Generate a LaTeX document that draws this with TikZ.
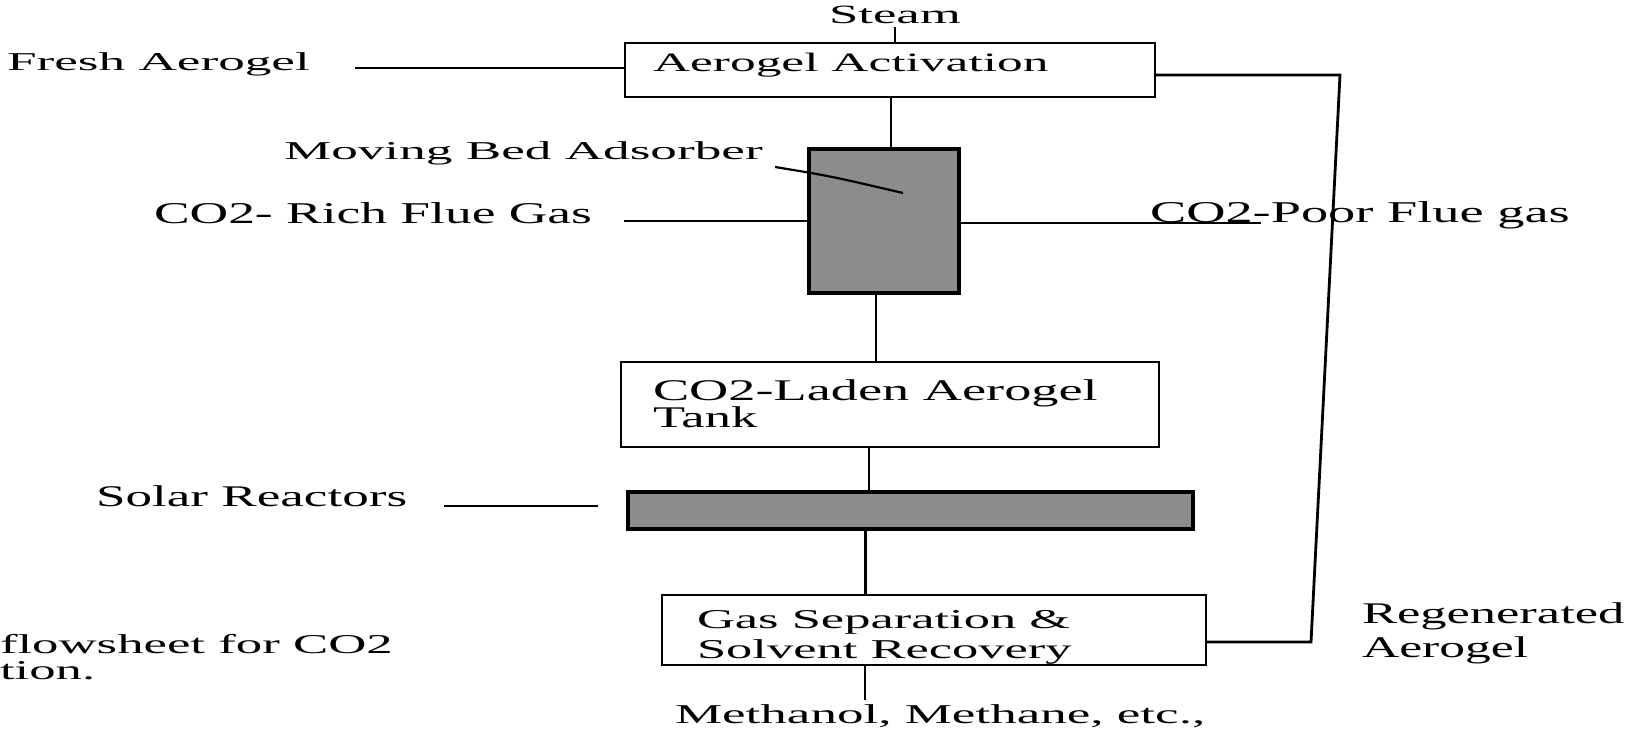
\documentclass[tikz,border=0pt]{standalone}
\usepackage{fontspec}
\setmainfont{Liberation Serif}
\usepackage{graphicx}
\newcommand{\wtxt}[3]{\fontsize{#2pt}{#2pt}\selectfont\scalebox{#1}[1]{#3}}
\begin{document}
\begin{tikzpicture}[x=1pt,y=-1pt,
  txt/.style={inner sep=0pt, outer sep=0pt, anchor=base west},
  box/.style={draw, line width=2.8pt, inner sep=0pt, outer sep=0pt},
  shaded/.style={draw, line width=3.2pt, fill=black!45, inner sep=0pt, outer sep=0pt},
  ln/.style={line width=2.8pt}]
\useasboundingbox (0,0) rectangle (1630,729);

% boxes
\node[box, minimum width=530pt, minimum height=54pt] (act) at (890,70) {};
\node[shaded, minimum width=150pt, minimum height=144pt] (ads) at (884,221) {};
\node[box, minimum width=538pt, minimum height=85pt] (tank) at (890,404.5) {};
\node[shaded, minimum width=565pt, minimum height=37pt] (solar) at (910.5,510.5) {};
\node[box, minimum width=544pt, minimum height=70pt] (sep) at (934,630) {};

% texts
\node[txt] (steam) at (829,23) {\wtxt{2.0}{26.4}{Steam}};
\node[txt] (fresh) at (7,70) {\wtxt{2.07}{25.7}{Fresh Aerogel}};
\node[txt] (acttxt) at (653,71) {\wtxt{1.94}{26.5}{Aerogel Activation}};
\node[txt] (mba) at (284,159) {\wtxt{2.07}{25.7}{Moving Bed Adsorber}};
\node[txt] (rich) at (154,223) {\wtxt{1.77}{30.2}{CO2- Rich Flue Gas}};
\node[txt] (poor) at (1150,222) {\wtxt{1.80}{30.2}{CO2-Poor Flue gas}};
\node[txt] (tank1) at (653,400) {\wtxt{1.81}{30}{CO2-Laden Aerogel}};
\node[txt] (tank2) at (653,427) {\wtxt{1.75}{30}{Tank}};
\node[txt] (solartxt) at (96,506) {\wtxt{1.77}{30}{Solar Reactors}};
\node[txt] (sep1) at (697,628) {\wtxt{1.93}{27.2}{Gas Separation \&}};
\node[txt] (sep2) at (697,658) {\wtxt{1.93}{27.2}{Solvent Recovery}};
\node[txt] (meth) at (675,723) {\wtxt{1.95}{27.2}{Methanol, Methane, etc.,}};
\node[txt] (regen1) at (1362,623) {\wtxt{1.75}{30}{Regenerated}};
\node[txt] (regen2) at (1362,657) {\wtxt{1.72}{30}{Aerogel}};
\node[txt] (cap1) at (0,653) {\wtxt{1.94}{27.2}{flowsheet for CO2}};
\node[txt] (cap2) at (0,679) {\wtxt{1.94}{27.2}{tion.}};

% free ends
\coordinate (freshend) at (355,68);
\coordinate (richend) at (624,221);
\coordinate (poorend) at (1261,223);
\coordinate (leadA) at (775,167);
\coordinate (leadB) at (903,193);
\coordinate (solA) at (444,506);
\coordinate (solB) at (598,506);
\coordinate (rtop) at (1340,75);
\coordinate (rbot) at (1311,642);

% connectors
\draw[ln] ([yshift=-4pt]steam.south) -- (steam.south |- act.north);
\draw[ln] (freshend) -- (freshend -| act.west);
\draw[ln] ([xshift=1pt]act.south) -- ([xshift=1pt]act.south |- ads.north);
\draw[ln] ([xshift=-8pt]ads.south) -- ([xshift=-8pt]ads.south |- tank.north);
\draw[ln] ([xshift=-21pt]tank.south) -- ([xshift=-21pt]tank.south |- solar.north);
\draw[ln] ([xshift=-45pt]solar.south) -- ([xshift=-45pt]solar.south |- sep.north);
\draw[ln] ([xshift=-69pt]sep.south) -- ([xshift=-69pt,yshift=-35pt]sep.south);
\draw[ln] (richend) -- (richend -| ads.west);
\draw[ln] (poorend -| ads.east) -- (poorend);
\draw[line width=2.2pt] (leadA) .. controls (830,176) .. (leadB);
\draw[ln] (solA) -- (solB);
\draw[ln] (rtop -| act.east) -- (rtop) -- (rbot) -- (rbot -| sep.east);
\end{tikzpicture}
\end{document}
